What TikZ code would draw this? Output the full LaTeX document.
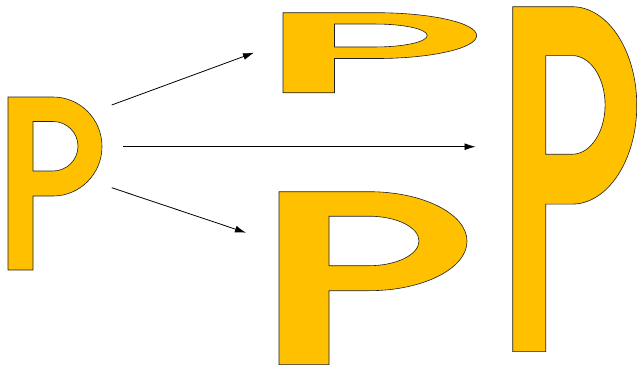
\documentclass[tikz,border=0pt]{standalone}
\usetikzlibrary{arrows.meta}
\definecolor{pgold}{HTML}{FFC000}
\definecolor{pline}{HTML}{202020}
\tikzset{
  pshape/.style={fill=pgold,draw=pline,line width=0.6pt,even odd rule,line join=miter},
  conn/.style={line width=0.8pt,-{Latex[length=11pt,width=7pt]}}
}
\newcommand{\pletter}{%
  (0,0) -- (45,0) arc[start angle=-90,end angle=90,x radius=49,y radius=49.5]
  -- (25,99) -- (25,173) -- (0,173) -- cycle
  (25,24.5) -- (45,24.5) arc[start angle=-90,end angle=90,x radius=25,y radius=24.75]
  -- (25,74) -- cycle}
\begin{document}
\begin{tikzpicture}[x=1pt,y=-1pt]
\useasboundingbox (0,0) rectangle (637,364);
% left P
\begin{scope}[shift={(8,97)}]
  \path[pshape] \pletter;
\end{scope}
% top P (wide, short)
\begin{scope}[shift={(283,12.7)},xscale=2.06,yscale=0.463]
  \path[pshape] \pletter;
\end{scope}
% bottom P (wide)
\begin{scope}[shift={(279,191.7)},xscale=2.0,yscale=1.0]
  \path[pshape] \pletter;
\end{scope}
% right P (tall)
\begin{scope}[shift={(512.7,6.7)},xscale=1.32,yscale=1.994]
  \path[pshape] \pletter;
\end{scope}
% connector ends
\coordinate (a1) at (111.7,105);
\coordinate (b1) at (254,52.7);
\coordinate (a2) at (123.3,146.7);
\coordinate (b2) at (475.5,146.7);
\coordinate (a3) at (111.7,187.7);
\coordinate (b3) at (246,232.7);
\draw[conn] (a1) -- (b1);
\draw[conn] (a2) -- (b2);
\draw[conn] (a3) -- (b3);
\end{tikzpicture}
\end{document}
